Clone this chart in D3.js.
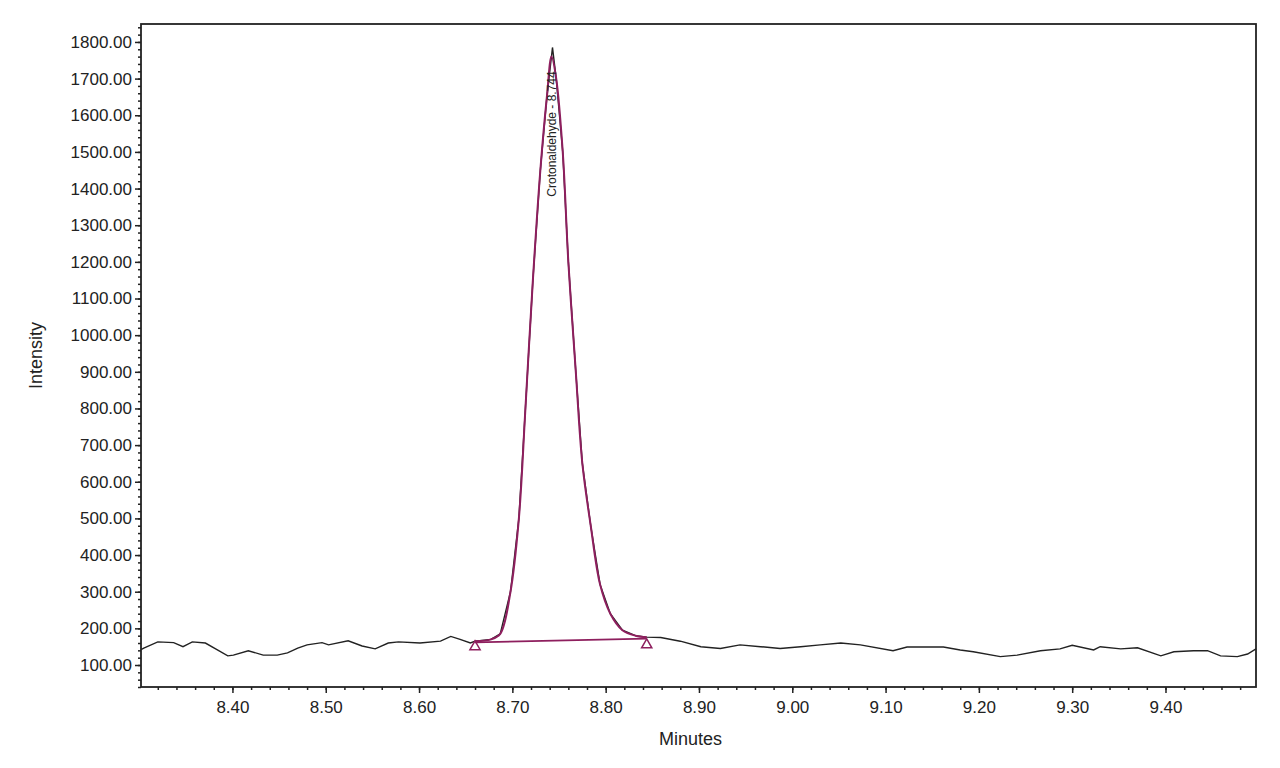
<!DOCTYPE html>
<html>
<head>
<meta charset="utf-8">
<script src="https://cdn.jsdelivr.net/npm/d3@7.9.0/dist/d3.min.js"></script>
<style>
  body { margin: 0; background: #fff; }
  text { font-family: "Liberation Sans", Arial, sans-serif; fill: #222; }
</style>
</head>
<body>
<svg id="chart" width="1280" height="768"></svg>
<script>
// baseline trace (minutes, intensity)
const traceTimes = [8.302, 8.305, 8.320, 8.337, 8.347, 8.357, 8.371, 8.382, 8.395, 8.401, 8.417, 8.433, 8.448, 8.459, 8.470, 8.480, 8.496, 8.503, 8.524, 8.539, 8.553, 8.567, 8.578, 8.601, 8.623, 8.634, 8.644, 8.655,
  8.660, 8.677, 8.687, 8.698, 8.707, 8.714, 8.722, 8.730, 8.737, 8.743, 8.747, 8.754, 8.760, 8.768, 8.775, 8.784, 8.794, 8.805, 8.818, 8.832, 8.844,
  8.859, 8.880, 8.902, 8.923, 8.944, 8.966, 8.987, 9.009, 9.030, 9.052, 9.073, 9.108, 9.123, 9.137, 9.162, 9.180, 9.194, 9.223, 9.241, 9.266, 9.287, 9.300, 9.323, 9.330, 9.352, 9.370, 9.395, 9.409, 9.430, 9.445, 9.459, 9.477, 9.488, 9.497];
const traceValues = [142, 146, 163, 161, 150, 163, 160, 144, 125, 127, 139, 127, 127, 133, 146, 155, 161, 155, 166, 152, 144, 160, 163, 160, 165, 178, 170, 160,
  165, 170, 185, 300, 500, 800, 1150, 1450, 1650, 1785, 1700, 1500, 1200, 900, 650, 480, 320, 240, 195, 180, 176,
  175, 165, 150, 145, 155, 150, 145, 150, 155, 160, 155, 139, 149, 149, 149, 141, 136, 123, 127, 139, 144, 154, 141, 150, 144, 147, 125, 136, 139, 139, 125, 123, 130, 144];

// integrated peak
const peakTimes = [8.660, 8.677, 8.687, 8.698, 8.707, 8.714, 8.722, 8.730, 8.737, 8.742, 8.747, 8.754, 8.760, 8.768, 8.775, 8.784, 8.794, 8.805, 8.818, 8.832, 8.844];
const peakValues = [165, 170, 185, 300, 500, 800, 1150, 1450, 1650, 1760, 1700, 1500, 1200, 900, 650, 480, 320, 240, 195, 180, 176];
const peakBase = [[8.660, 162], [8.844, 172]];
const peakMarks = [[8.660, 150], [8.844, 155]];
const peakLabel = 'Crotonaldehyde - 8.744';

const yTicks = d3.range(100, 1801, 100);
const xTicks = d3.range(8.40, 9.401, 0.1);

const mLeft = 141, mTop = 24, mRight = 1256, mBottom = 687;
const svg = d3.select('#chart');
const x = d3.scaleLinear().domain([8.302, 9.497]).range([mLeft, mRight]);
const y = d3.scaleLinear().domain([40, 1849]).range([mBottom, mTop]);

// minor ticks
const gMinorY = svg.append('g').attr('transform', `translate(${mLeft},0)`)
  .call(d3.axisLeft(y).tickValues(d3.range(40, 1849, 20)).tickSize(3).tickFormat(''));
const gMinorX = svg.append('g').attr('transform', `translate(0,${mBottom})`)
  .call(d3.axisBottom(x).tickValues(d3.range(8.32, 9.497, 0.02)).tickSize(3).tickFormat(''));

const gy = svg.append('g').attr('transform', `translate(${mLeft},0)`)
  .call(d3.axisLeft(y).tickValues(yTicks).tickSize(6).tickPadding(3).tickFormat(d3.format('.2f')));
const gx = svg.append('g').attr('transform', `translate(0,${mBottom})`)
  .call(d3.axisBottom(x).tickValues(xTicks).tickSize(6).tickPadding(8).tickFormat(d3.format('.2f')));

[gMinorY, gMinorX, gy, gx].forEach(g => {
  g.select('.domain').remove();
  g.selectAll('line').attr('stroke', '#222').attr('stroke-width', 1.5);
  g.selectAll('text').style('font-size', '17px').attr('fill', '#222');
});

svg.append('rect').attr('x', mLeft).attr('y', mTop).attr('width', mRight - mLeft).attr('height', mBottom - mTop)
  .attr('fill', 'none').attr('stroke', '#222').attr('stroke-width', 1.8);

const line = d3.line().x(d => x(d[0])).y(d => y(d[1]));
const smooth = d3.line().x(d => x(d[0])).y(d => y(d[1])).curve(d3.curveCatmullRom);

svg.append('path').datum(d3.zip(traceTimes, traceValues))
  .attr('d', line).attr('fill', 'none').attr('stroke', '#222').attr('stroke-width', 1.4);

const purple = '#8e1f5e';
svg.append('path').datum(d3.zip(peakTimes, peakValues))
  .attr('d', smooth).attr('fill', 'none').attr('stroke', purple).attr('stroke-width', 2);
svg.append('path').datum(peakBase).attr('d', line)
  .attr('stroke', purple).attr('stroke-width', 1.8).attr('fill', 'none');

svg.selectAll('.mark').data(peakMarks).join('path')
  .attr('transform', d => `translate(${x(d[0])},${y(d[1])})`)
  .attr('d', d3.symbol(d3.symbolTriangle, 45))
  .attr('fill', 'none').attr('stroke', purple).attr('stroke-width', 1.5);

svg.append('text')
  .attr('transform', `translate(${x(8.743) + 4},${y(1720)}) rotate(-90)`)
  .attr('text-anchor', 'end').style('font-size', '12px').text(peakLabel);

svg.append('text').attr('transform', `translate(42,${(mTop + mBottom) / 2}) rotate(-90)`)
  .attr('text-anchor', 'middle').style('font-size', '18px').text('Intensity');
svg.append('text').attr('x', (mLeft + mRight) / 2 - 8).attr('y', 745)
  .attr('text-anchor', 'middle').style('font-size', '18px').text('Minutes');
</script>
</body>
</html>
